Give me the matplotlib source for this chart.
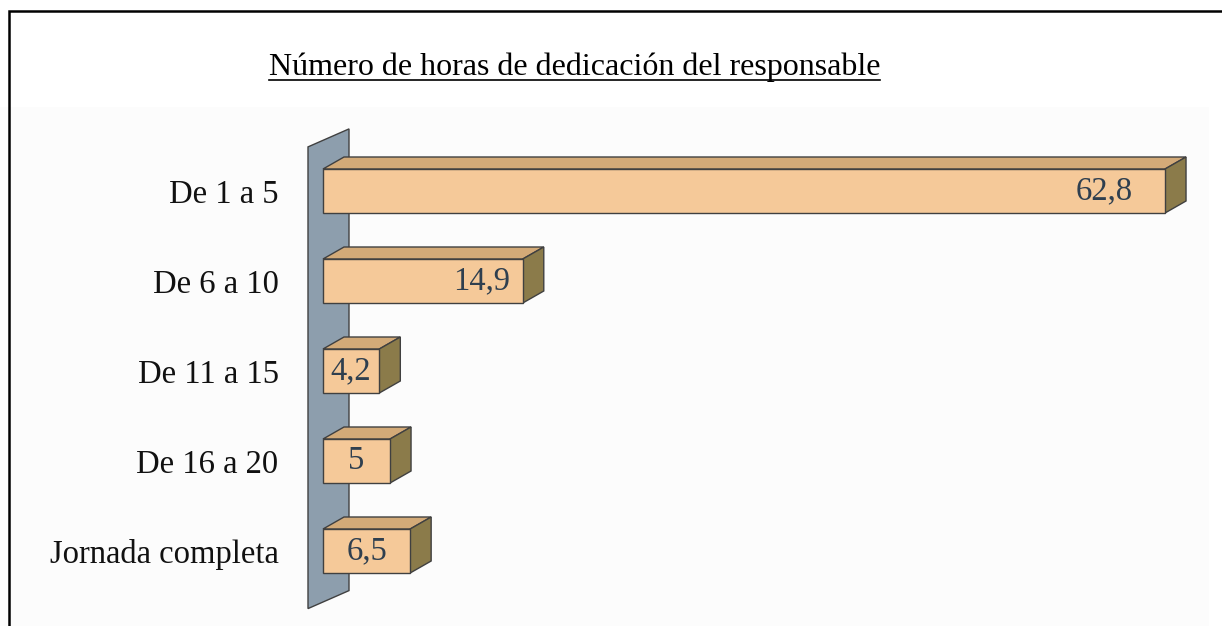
from matplotlib import pyplot as plt
from matplotlib.patches import Polygon, Rectangle
from matplotlib.lines import Line2D
import numpy as np

# Datos del grafico
categorias = ['De 1 a 5', 'De 6 a 10', 'De 11 a 15', 'De 16 a 20', 'Jornada completa']
valores = [62.8, 14.9, 4.2, 5, 6.5]
etiquetas = ['62,8', '14,9', '4,2', '5', '6,5']
titulo = u'N\u00famero de horas de dedicaci\u00f3n del responsable'

W, H = 1222, 626
px_unit = 13.408          # px por unidad en x
slot = 90.0               # px entre categorias
fig = plt.figure(figsize=(W / 100., H / 100.), dpi=100)
fig.patch.set_facecolor('white')

# fondo del area de trazado y marco
fig.patches.append(Rectangle((0, 0), 1209. / W, 1 - 107. / H, transform=fig.transFigure,
                             facecolor='#fcfcfc', edgecolor='none', zorder=-1))
fig.patches.append(Rectangle((9. / W, -0.1), 1.2, 1.1 - 11. / H, transform=fig.transFigure,
                             facecolor='none', edgecolor='black', linewidth=1.8, zorder=5))

ax = fig.add_axes([323. / W, 0, 886. / W, 1 - 107. / H])
ax.set_zorder(1)
ax.set_facecolor('none')
ax.set_xlim(0, 886. / px_unit)
ax.set_ylim((626. - 191.) / slot, -(191. - 107.) / slot)
for s in ax.spines.values():
    s.set_visible(False)
ax.set_xticks([])
ax.set_yticks(np.arange(len(categorias)))
ax.set_yticklabels(categorias, fontsize=23.5, family='Liberation Serif', color='#111111')
ax.tick_params(axis='y', length=0, pad=32)

front = '#f5c999'
top = '#d3aa78'
side = '#8b7b4a'
edge = '#404040'
dx = 21. / px_unit        # profundidad 3D
dy = -12. / slot
h = 22. / slot

# pared del eje de categorias
n = len(categorias)
wl = -15. / px_unit
wr = 26. / px_unit
wy0 = -0.49
wy1 = n - 1 + 0.64
wall = Polygon([(wl, wy0), (wr, wy0 - 0.2), (wr, wy1 - 0.2), (wl, wy1)], closed=True,
               facecolor='#8d9ead', edgecolor=edge, linewidth=1.0, clip_on=False, zorder=1)
ax.add_patch(wall)

for i, v in enumerate(valores):
    y0, y1 = i - h, i + h
    ax.add_patch(Polygon([(0, y0), (v, y0), (v + dx, y0 + dy), (dx, y0 + dy)], closed=True,
                         facecolor=top, edgecolor=edge, linewidth=1.0, clip_on=False, zorder=2))
    ax.add_patch(Polygon([(v, y0), (v + dx, y0 + dy), (v + dx, y1 + dy), (v, y1)], closed=True,
                         facecolor=side, edgecolor=edge, linewidth=1.0, clip_on=False, zorder=2))
    ax.add_patch(Rectangle((0, y0), v, 2 * h, facecolor=front, edgecolor=edge,
                           linewidth=1.0, clip_on=False, zorder=3))
    if v > 10:
        ax.text(0.97 * v - 0.5, i, etiquetas[i], ha='right', va='center', fontsize=23.5,
                family='Liberation Serif', color='#2f3f4f', zorder=4)
    else:
        ax.text(v / 2., i, etiquetas[i], ha='center', va='center', fontsize=23.5,
                family='Liberation Serif', color='#2f3f4f', zorder=4)

# titulo subrayado
t = fig.text(574.5 / W, 1 - 75. / H, titulo, ha='center', va='baseline', fontsize=23,
             family='Liberation Serif', color='black')
fig.canvas.draw()
bb = t.get_window_extent()
yl = (H - 79.5) / H
fig.lines.append(Line2D([bb.x0 / W, bb.x1 / W], [yl, yl], transform=fig.transFigure,
                        color='black', linewidth=1.2))

plt.savefig('out.png', dpi=100)
